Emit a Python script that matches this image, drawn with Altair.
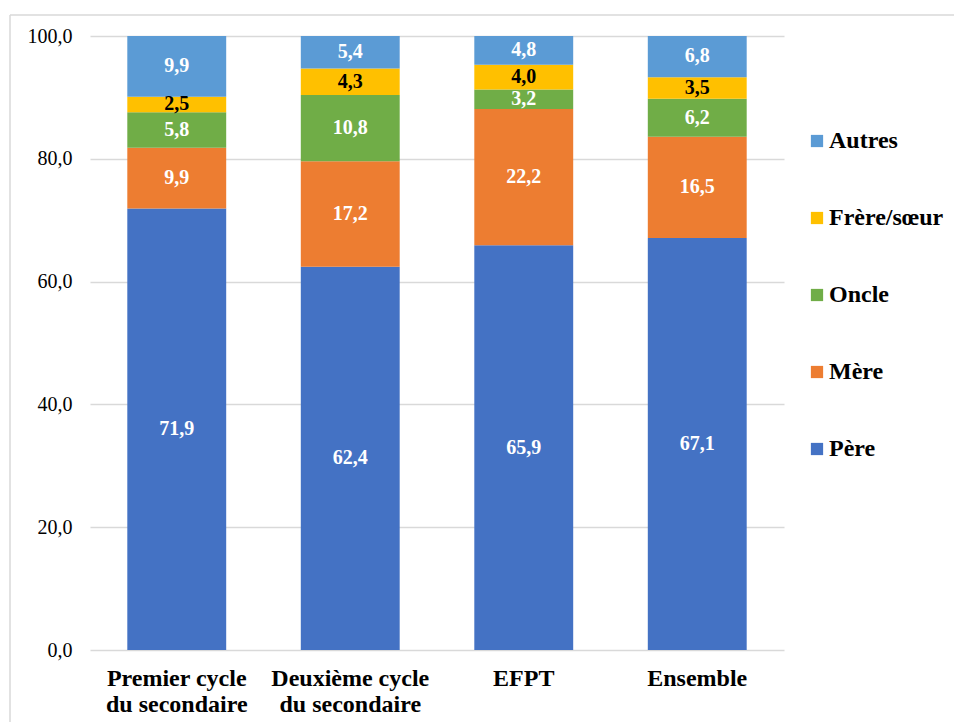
import altair as alt
import pandas as pd

categories = ["Premier cycle du secondaire", "Deuxième cycle du secondaire", "EFPT", "Ensemble"]
series = ["Père", "Mère", "Oncle", "Frère/sœur", "Autres"]
pere = [71.9, 62.4, 65.9, 67.1]
mere = [9.9, 17.2, 22.2, 16.5]
oncle = [5.8, 10.8, 3.2, 6.2]
frere = [2.5, 4.3, 4.0, 3.5]
autres = [9.9, 5.4, 4.8, 6.8]
colors = ["#4472C4", "#ED7D31", "#70AD47", "#FFC000", "#5B9BD5"]
label_colors = ["white", "white", "white", "black", "white"]

rows = []
for si, (s, vals) in enumerate(zip(series, [pere, mere, oncle, frere, autres])):
    for c, v in zip(categories, vals):
        rows.append({"cat": c, "serie": s, "v": v, "ord": si, "lc": label_colors[si]})
df = pd.DataFrame(rows)

FONT = "Liberation Serif"
legend_order = ["Autres", "Frère/sœur", "Oncle", "Mère", "Père"]
legend_colors = [colors[series.index(s)] for s in legend_order]

base = alt.Chart(df).transform_stack(
    stack="v", groupby=["cat"], as_=["y0", "y1"], sort=[alt.SortField("ord", order="ascending")]
).transform_calculate(
    mid="(datum.y0 + datum.y1) / 2",
    lab="replace(format(datum.v, '.1f'), '.', ',')",
)

x_axis = alt.Axis(
    title=None,
    labelAngle=0,
    labelFont=FONT,
    labelFontSize=24,
    labelFontWeight="bold",
    labelColor="black",
    labelPadding=16,
    labelLineHeight=26,
    labelBaseline="top",
    ticks=False,
    grid=False,
    domain=False,
    labelExpr="indexof(datum.value, ' du ') > 0 ? [slice(datum.value, 0, indexof(datum.value, ' du ')), slice(datum.value, indexof(datum.value, ' du ') + 1)] : datum.value",
)
x_scale = alt.Scale(paddingInner=0.43, paddingOuter=0.215)

y_axis = alt.Axis(
    title=None,
    values=[0, 20, 40, 60, 80, 100],
    labelExpr="replace(format(datum.value, '.1f'), '.', ',')",
    labelFont=FONT,
    labelFontSize=20,
    labelColor="black",
    labelPadding=18,
    ticks=False,
    domain=False,
    grid=True,
    gridColor="#d9d9d9",
    gridWidth=1.5,
)
y_scale = alt.Scale(domain=[0, 100], nice=False, clamp=True)

bars = base.mark_bar().encode(
    x=alt.X("cat:N", sort=categories, scale=x_scale, axis=x_axis),
    y=alt.Y("y0:Q", scale=y_scale, axis=y_axis),
    y2="y1:Q",
    color=alt.Color(
        "serie:N",
        scale=alt.Scale(domain=legend_order, range=legend_colors),
        legend=alt.Legend(
            title=None,
            orient="none",
            legendX=715,
            legendY=93,
            symbolType="square",
            symbolSize=150,
            symbolStrokeWidth=0,
            labelFont=FONT,
            labelFontSize=24,
            labelFontWeight="bold",
            labelColor="black",
            labelOffset=0,
            rowPadding=53,
            labelLimit=300,
        ),
    ),
)

labels = base.mark_text(font=FONT, fontSize=20, fontWeight="bold", baseline="middle").encode(
    x=alt.X("cat:N", sort=categories, scale=x_scale, axis=x_axis),
    y=alt.Y("mid:Q", scale=y_scale, axis=y_axis),
    text="lab:N",
    color=alt.Color("lc:N", scale=None),
)

border_df = pd.DataFrame({"k": [1]})
border_left = alt.Chart(border_df).mark_rule(color="#d9d9d9", strokeWidth=1.5).encode(
    x=alt.value(-80), y=alt.value(-21), y2=alt.value(720)
)
border_top = alt.Chart(border_df).mark_rule(color="#d9d9d9", strokeWidth=1.5).encode(
    x=alt.value(-80), x2=alt.value(900), y=alt.value(-21)
)

chart = alt.layer(bars, labels, border_left, border_top).properties(
    width=694,
    height=614,
    autosize=alt.AutoSizeParams(type="none"),
    padding={"left": 82, "top": 28, "right": 170, "bottom": 80},
    view=alt.ViewBackground(stroke="transparent", strokeWidth=0),
).configure(background="white").configure_view(
    strokeOpacity=0, strokeWidth=0
).configure_axisX(domain=False, grid=False, ticks=False).configure_axisY(domain=False, ticks=False)

chart.save("out.html", embed_options={"renderer": "svg", "actions": False})
